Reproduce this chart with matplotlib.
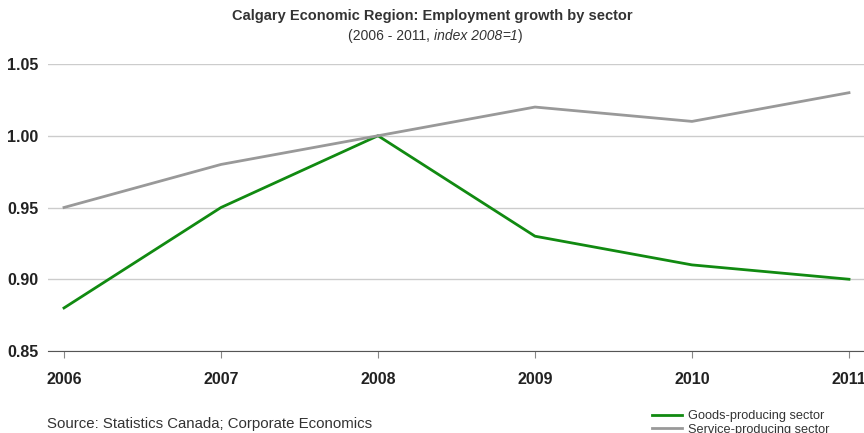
import matplotlib.pyplot as plt

years = [2006, 2007, 2008, 2009, 2010, 2011]
goods = [0.88, 0.95, 1.00, 0.93, 0.91, 0.90]
services = [0.95, 0.98, 1.00, 1.02, 1.01, 1.03]
y_ticks = [0.85, 0.90, 0.95, 1.00, 1.05]

plt.rcParams['font.family'] = ['Liberation Sans', 'DejaVu Sans']

fig = plt.figure(figsize=(8.64, 4.33), dpi=100)
ax = fig.add_axes([48 / 864, 82 / 433, 816 / 864, 287 / 433])

ax.plot(years, goods, color='#118a11', lw=2, label='Goods-producing sector')
ax.plot(years, services, color='#999999', lw=2, label='Service-producing sector')

ax.set_xlim(2006 - 16 / 157, 2011 + 15 / 157)
ax.set_ylim(0.85, 1.05)
ax.set_yticks(y_ticks)
ax.set_yticklabels([f'{v:.2f}' for v in y_ticks], fontweight='bold', fontsize=11.5, color='#222222')
ax.set_xticks(years)
ax.set_xticklabels([str(y) for y in years], fontweight='bold', fontsize=11.5, color='#222222')
ax.tick_params(axis='y', length=0, pad=7)
ax.tick_params(axis='x', length=5, color='#888888', pad=10)

ax.grid(axis='y', color='#cccccc', lw=1)
ax.set_axisbelow(True)
for s in ['top', 'right', 'left']:
    ax.spines[s].set_visible(False)
ax.spines['bottom'].set_color('#555555')
ax.spines['bottom'].set_zorder(3)

fig.text(0.5, 0.962, 'Calgary Economic Region: Employment growth by sector',
         ha='center', va='center', fontsize=10.5, fontweight='bold', color='#333333')

# subtitle is laid out piece by piece so some parts can be italic
parts = [('(2006 - 2011, ', 'normal'), ('index 2008', 'italic'), ('=', 'normal'),
         ('1', 'italic'), (')', 'normal')]
fig.canvas.draw()
renderer = fig.canvas.get_renderer()
x = 348 / 864
for txt, style in parts:
    t = fig.text(x, 0.908, txt, ha='left', va='baseline', fontsize=10,
                 color='#333333', fontstyle=style)
    bb = t.get_window_extent(renderer)
    x = fig.transFigure.inverted().transform((bb.x1, bb.y0))[0]

fig.text(47 / 864, 1 - 424 / 433, 'Source: Statistics Canada; Corporate Economics',
         ha='left', va='center', fontsize=10.8, color='#333333')

fig.legend(loc='upper left', bbox_to_anchor=(646 / 864, 1 - 404 / 433), frameon=False,
           fontsize=9.2, handlelength=2.3, labelspacing=0.1, borderpad=0, handletextpad=0.5,
           labelcolor='#333333')

fig.savefig('out.png', dpi=100)
